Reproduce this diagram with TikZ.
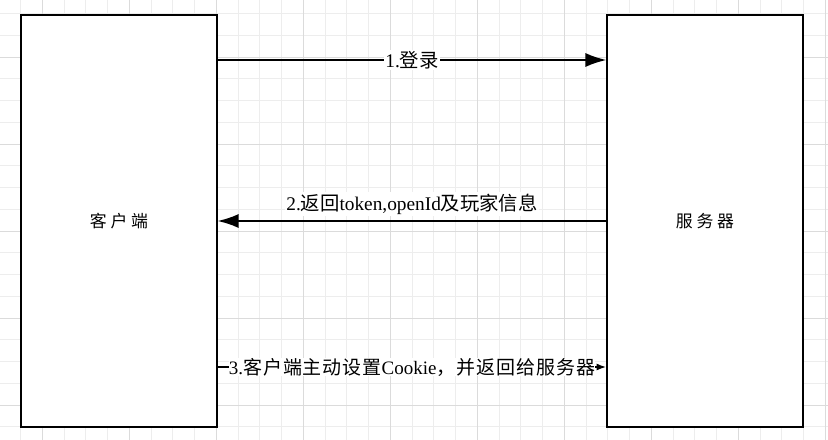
\documentclass[tikz,border=0pt]{standalone}
\usepackage{fontspec}
\setmainfont{Liberation Serif}
\newfontfamily\cjk{Noto Sans CJK SC}
\newfontfamily\cjkwide{Noto Sans CJK SC}[LetterSpace=22]
\newfontfamily\cjkmid{Noto Sans CJK SC}[LetterSpace=5]
\usetikzlibrary{arrows.meta}
\tikzset{
	minorgrid/.style={line width=0.5pt, color=black!7},
	majorgrid/.style={line width=0.5pt, color=black!14},
	party/.style={draw, fill=white, line width=1.4pt, minimum width=4.875cm, minimum height=10.3cm, font=\fontsize{12}{14}\selectfont\cjkwide},
	msg/.style={line width=1.4pt, -{Latex[length=15pt, width=10pt]}},
	msgsmall/.style={line width=1.4pt, -{Latex[length=7pt, width=5pt]}},
	msglabel/.style={fill=white, inner sep=1pt, font=\fontsize{13.75}{16}\selectfont},
}

\begin{document}
\begin{tikzpicture}[x=0.025cm, y=-0.025cm]
		%%%%% START %%%%%
		
		\fill[white] (0, 0) rectangle (828, 440);
		\useasboundingbox (0, 0) rectangle (828, 440);
		
		\foreach \i in {1,...,38}
			\draw[minorgrid] ({-1.2+21.75*\i}, 0) -- ({-1.2+21.75*\i}, 440);
		\foreach \j in {0,...,19}
			\draw[minorgrid] (0, {13.5+21.75*\j}) -- (828, {13.5+21.75*\j});
		\foreach \i in {2,6,...,38}
			\draw[majorgrid] ({-1.2+21.75*\i}, 0) -- ({-1.2+21.75*\i}, 440);
		\foreach \j in {2,6,...,18}
			\draw[majorgrid] (0, {13.5+21.75*\j}) -- (828, {13.5+21.75*\j});
		
		\node[party] (client) at (119, 221) {客户端};
		\node[party] (server) at (705, 221) {服务器};
		
		\coordinate (login) at (0, 60);
		\coordinate (reply) at (0, 221);
		\coordinate (cookie) at (0, 367);
		
		\draw[msg] (client.east |- login) -- (server.west |- login)
			node[msglabel, midway] (loginlabel) {1.{\cjk 登录}};
		
		\draw[msg] (server.west |- reply) -- (client.east |- reply)
			node[msglabel, midway, above=3pt] (replylabel) {2.{\cjk 返回}token,openId{\cjk 及玩家信息}};
		
		\draw[msgsmall] (client.east |- cookie) -- (server.west |- cookie)
			node[msglabel, midway, inner sep=0pt, font=\fontsize{13.5}{16}\selectfont] (cookielabel) {3.{\cjkmid 客户端主动设置}Cookie{\cjkmid ，并返回给服务器}};
		
		%%%%% END %%%%%
\end{tikzpicture}
\end{document}
